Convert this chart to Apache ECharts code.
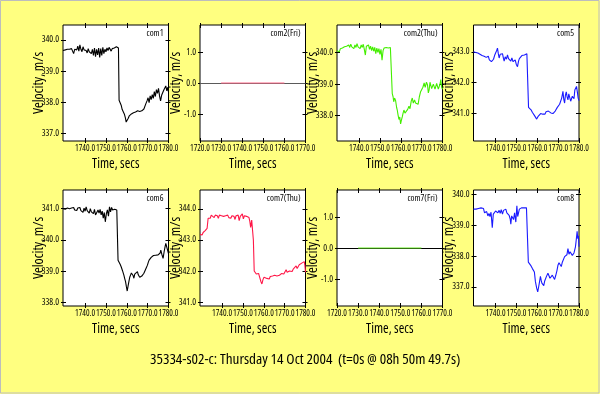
<!DOCTYPE html>
<html><head><meta charset="utf-8">
<script src="https://cdn.jsdelivr.net/npm/echarts@6/dist/echarts.min.js"></script>
<style>html,body{margin:0;padding:0;background:#ffff80}#c{width:600px;height:394px}</style>
</head><body><div id="c"></div>
<script>
// ---------- data ----------
const com1T = [1729.4,1730.0,1730.5,1731.0,1731.5,1732.0,1732.5,1733.0,1733.5,1734.0,1734.5,1735.0,1735.5,1736.0,1736.5,1737.0,1737.5,1738.0,1738.5,1739.0,1739.5,1740.0,1740.5,1741.0,1741.5,1742.0,1742.5,1743.0,1743.5,1744.0,1744.5,1745.0,1745.5,1746.0,1746.5,1747.0,1747.5,1748.0,1748.5,1749.0,1749.5,1750.0,1750.5,1751.0,1751.5,1752.0,1752.5,1753.0,1753.5,1754.0,1754.5,1755.0,1755.5,1756.0,1756.3,1756.8,1757.3,1757.8,1758.3,1758.8,1759.3,1759.7,1760.2,1760.7,1761.2,1761.7,1762.2,1762.7,1763.2,1763.7,1764.2,1764.7,1765.2,1765.7,1766.2,1766.7,1767.2,1767.7,1768.2,1768.7,1769.2,1769.7,1770.2,1770.7,1771.2,1771.7,1772.2,1772.7,1773.2,1773.7,1774.2,1774.7,1775.2,1775.7,1776.2,1776.7,1777.2,1777.7,1778.2,1778.7,1779.2,1779.7,1780.0];
const com1V = [339.66,339.70,339.68,339.72,339.70,339.74,339.70,339.66,339.72,339.68,339.56,339.70,339.74,339.68,339.80,339.64,339.84,339.70,339.62,339.78,339.68,339.74,339.66,339.58,339.72,339.62,339.68,339.56,339.70,339.50,339.74,339.46,339.70,339.52,339.74,339.44,339.72,339.50,339.76,339.56,339.70,339.62,339.74,339.66,339.76,339.70,339.64,339.72,339.66,339.74,339.70,339.78,339.72,339.74,338.06,337.98,337.90,337.76,337.80,337.62,337.50,337.36,337.42,337.48,337.56,337.52,337.62,337.58,337.66,337.60,337.68,337.64,337.72,337.66,337.70,337.64,337.72,337.70,337.78,337.80,337.96,338.04,338.14,337.98,338.20,338.08,338.24,338.12,338.34,338.18,338.40,338.28,338.44,338.20,338.04,338.22,338.30,338.38,338.44,338.52,338.36,338.48,338.32];

const com2FriT = [1730,1735,1740,1745,1750,1755,1760];
const com2FriV = [0,0,0,0,0,0,0];

const com2ThuT = [1729.4,1730.0,1730.5,1731.0,1731.5,1732.0,1732.5,1733.0,1733.5,1734.0,1734.5,1735.0,1735.5,1736.0,1736.5,1737.0,1737.5,1738.0,1738.5,1739.0,1739.5,1740.0,1740.5,1741.0,1741.5,1742.0,1742.5,1743.0,1743.5,1744.0,1744.5,1745.0,1745.5,1746.0,1746.5,1747.0,1747.5,1748.0,1748.5,1749.0,1749.5,1750.0,1750.5,1751.0,1751.5,1752.0,1752.5,1753.0,1753.5,1754.0,1754.5,1755.0,1755.5,1755.9,1756.3,1756.6,1757.0,1757.5,1758.0,1758.3,1758.7,1759.1,1759.5,1759.9,1760.3,1760.7,1761.1,1761.5,1762.0,1762.4,1762.8,1763.3,1763.9,1764.4,1765.0,1765.5,1766.0,1766.6,1767.1,1767.7,1768.3,1768.9,1769.5,1770.0,1770.6,1771.2,1771.7,1772.3,1772.8,1773.2,1773.6,1774.0,1774.4,1774.8,1775.2,1775.6,1776.0,1776.4,1776.8,1777.2,1777.6,1778.0,1778.4,1778.8,1779.2,1779.6,1780.0];
const com2ThuV = [340.06,340.10,340.02,340.12,340.06,340.14,340.08,340.18,340.12,340.20,340.14,340.24,340.16,340.26,340.18,340.22,340.12,340.24,340.16,340.28,340.18,340.22,340.12,340.24,340.16,340.26,340.10,339.92,340.20,340.14,340.24,340.10,340.20,340.06,340.18,340.04,340.16,339.96,340.14,340.00,340.12,339.94,340.10,339.76,340.06,340.14,340.08,340.16,340.10,340.14,340.12,340.16,340.14,338.70,338.60,338.44,338.56,338.48,338.26,338.18,338.02,337.88,337.96,337.74,337.86,337.96,338.08,338.18,338.08,338.14,338.02,338.20,338.30,338.22,338.46,338.56,338.40,338.50,338.40,338.44,338.36,338.60,338.76,338.70,338.90,339.04,338.90,339.06,338.98,338.72,338.82,339.06,339.08,338.86,338.82,339.00,339.04,338.84,338.82,339.02,339.08,338.84,338.80,339.00,339.14,338.90,338.84];

const com5T = [1729.4,1730.0,1730.5,1731.0,1731.5,1732.0,1732.5,1733.0,1733.5,1734.0,1734.5,1735.0,1735.5,1736.0,1736.5,1737.0,1737.5,1738.0,1738.5,1739.0,1739.5,1740.0,1740.5,1740.9,1741.3,1741.7,1742.2,1742.7,1743.3,1743.8,1744.1,1744.6,1745.2,1745.7,1746.2,1746.8,1747.3,1747.8,1748.4,1748.9,1749.4,1749.9,1750.5,1751.0,1751.4,1752.1,1752.6,1753.2,1753.8,1754.3,1755.0,1755.5,1755.8,1756.3,1757.0,1757.6,1758.1,1758.6,1759.2,1759.7,1760.3,1761.0,1761.6,1762.2,1762.6,1763.2,1763.7,1764.2,1764.8,1765.3,1765.9,1766.5,1767.0,1767.5,1768.1,1768.6,1769.1,1769.6,1770.2,1770.7,1771.2,1771.7,1772.3,1772.7,1773.1,1773.5,1773.9,1774.3,1774.7,1775.1,1775.6,1776.0,1776.3,1776.8,1777.2,1777.6,1778.0,1778.4,1778.8,1779.2,1779.6,1780.0];
const com5V = [343.00,343.02,342.98,343.00,342.96,342.98,342.92,342.96,342.88,342.92,342.86,342.90,342.82,342.78,342.86,342.74,342.80,342.68,342.62,342.76,342.88,342.96,343.04,343.12,342.94,342.80,342.92,342.86,342.94,342.78,342.70,342.84,342.76,342.90,342.78,342.82,342.70,342.80,342.68,342.62,342.74,342.60,342.52,342.70,342.78,342.80,342.88,342.84,342.90,342.88,342.94,342.90,341.20,341.14,341.12,341.04,341.00,340.94,340.88,340.82,340.90,340.92,341.00,340.94,340.98,341.04,340.98,341.06,341.00,341.08,341.04,341.02,341.06,341.00,341.04,341.08,341.12,341.20,341.26,341.30,341.34,341.50,341.72,341.46,341.34,341.60,341.70,341.54,341.44,341.64,341.60,341.40,341.38,341.56,341.62,341.48,341.76,341.82,341.88,341.70,341.50,341.42];

const com6T = [1729.4,1730.0,1730.5,1731.0,1731.5,1732.0,1732.5,1733.0,1733.5,1734.0,1734.5,1735.0,1735.5,1736.0,1736.5,1737.0,1737.5,1738.0,1738.5,1739.0,1739.5,1740.0,1740.5,1741.0,1741.5,1742.0,1742.5,1743.0,1743.5,1744.0,1744.5,1745.0,1745.7,1746.2,1746.7,1747.2,1747.7,1748.2,1748.7,1749.2,1749.7,1750.2,1750.7,1751.2,1751.7,1752.2,1752.7,1753.2,1753.7,1754.2,1754.7,1755.2,1755.6,1755.8,1756.3,1756.8,1757.3,1757.9,1758.6,1759.0,1759.4,1759.8,1760.2,1760.6,1761.0,1761.4,1761.8,1762.2,1762.6,1763.0,1763.4,1763.8,1764.2,1764.6,1765.1,1765.5,1765.8,1766.2,1766.7,1767.2,1767.7,1768.2,1768.7,1769.3,1769.9,1770.3,1770.7,1771.2,1771.7,1772.3,1772.8,1773.4,1773.9,1774.4,1775.0,1775.5,1776.0,1776.3,1776.8,1777.4,1777.9,1778.3,1778.7,1779.1,1779.5,1780.0];
const com6V = [341.00,341.02,340.98,341.00,341.02,340.98,341.00,340.96,341.02,340.98,341.04,340.96,341.00,340.94,341.02,340.96,341.04,340.94,341.00,340.88,341.02,340.92,341.06,340.94,340.98,340.86,341.00,340.90,340.96,340.84,340.98,340.80,340.74,340.96,340.86,340.98,340.80,340.92,340.70,340.88,340.58,340.84,340.96,340.76,341.06,340.90,341.04,340.96,341.02,340.98,341.00,340.96,340.98,339.35,339.30,339.22,339.14,339.02,338.87,338.76,338.66,338.50,338.36,338.52,338.66,338.80,338.87,338.94,338.98,338.86,338.77,338.90,338.93,338.84,338.98,338.88,338.84,338.80,338.77,338.84,338.90,338.93,338.98,339.10,339.19,339.28,339.35,339.40,339.44,339.46,339.50,339.46,339.51,339.48,339.52,339.46,339.58,339.67,339.54,339.41,339.62,339.76,339.89,339.84,339.94,339.56];

const com7ThuT = [1729.4,1729.9,1730.4,1730.9,1731.4,1731.9,1732.4,1732.8,1733.3,1733.8,1734.3,1734.8,1735.2,1735.7,1736.2,1736.7,1737.2,1737.7,1738.2,1738.7,1739.2,1739.7,1740.2,1740.7,1741.2,1741.7,1742.2,1742.7,1743.2,1743.7,1744.2,1744.7,1745.2,1745.7,1746.2,1746.7,1747.2,1747.7,1748.2,1748.7,1749.2,1749.7,1750.2,1750.7,1751.2,1751.7,1752.2,1752.9,1753.3,1753.7,1754.2,1754.6,1755.0,1755.4,1755.9,1756.4,1757.0,1757.5,1758.0,1758.6,1759.1,1759.6,1760.1,1760.5,1761.0,1761.5,1762.0,1762.6,1763.1,1763.6,1764.2,1764.7,1765.2,1765.8,1766.3,1766.9,1767.5,1768.0,1768.6,1769.1,1769.6,1770.2,1770.7,1771.2,1771.8,1772.3,1773.1,1773.6,1774.1,1774.6,1775.0,1775.5,1776.0,1776.5,1777.0,1777.4,1777.9,1778.4,1778.9,1779.4,1779.7,1780.0];
const com7ThuV = [343.18,343.22,343.16,343.24,343.20,343.30,343.26,343.37,343.70,343.76,343.70,343.80,343.74,343.82,343.72,343.80,343.74,343.78,343.70,343.80,343.74,343.78,343.72,343.76,343.70,343.78,343.74,343.80,343.72,343.76,343.70,343.78,343.72,343.76,343.66,343.78,343.72,343.80,343.62,343.76,343.70,343.84,343.68,343.78,343.72,343.76,343.74,343.72,343.60,343.40,343.64,343.62,343.00,342.00,342.06,341.90,341.86,341.92,341.80,341.66,341.58,341.72,341.80,341.74,341.82,341.76,341.80,341.74,341.82,341.78,341.84,341.80,341.86,341.80,341.84,341.82,341.86,341.84,341.92,341.86,341.90,341.96,342.04,341.96,341.92,342.00,342.02,341.98,342.06,342.04,342.10,342.16,342.08,342.12,342.20,342.22,342.16,342.26,342.28,342.30,342.18,341.96];

const com7FriT = [1730,1735,1740,1745,1750,1755,1760];
const com7FriV = [0,0,0,0,0,0,0];

const com8T = [1729.4,1730.0,1730.6,1731.2,1731.8,1732.4,1733.0,1733.6,1734.2,1734.7,1735.2,1735.7,1736.3,1736.8,1737.3,1737.8,1738.4,1738.9,1739.4,1740.0,1740.5,1741.1,1741.7,1742.2,1742.7,1743.3,1743.8,1744.3,1744.9,1745.4,1746.0,1746.5,1747.0,1747.3,1747.7,1748.1,1748.6,1749.1,1749.7,1750.2,1750.6,1751.0,1751.4,1751.9,1752.4,1753.0,1753.6,1754.2,1754.8,1755.4,1755.7,1756.3,1757.0,1757.6,1758.2,1758.6,1759.1,1759.7,1760.2,1760.6,1761.0,1761.5,1761.9,1762.2,1762.6,1763.1,1763.5,1763.8,1764.4,1765.1,1765.6,1766.1,1766.7,1767.2,1767.8,1768.3,1768.8,1769.4,1769.9,1770.4,1770.9,1771.5,1772.0,1772.5,1773.1,1773.6,1774.2,1774.7,1775.2,1775.7,1776.3,1776.8,1777.2,1777.6,1778.0,1778.3,1778.5,1778.8,1779.1,1779.4,1779.7,1780.0];
const com8V = [339.52,339.56,339.52,339.58,339.54,339.60,339.56,339.60,339.54,339.40,339.34,339.44,339.30,339.38,339.28,339.42,338.92,339.36,339.30,339.46,339.52,339.40,339.48,339.38,339.50,339.36,339.48,339.42,339.52,339.40,339.44,339.32,339.20,339.03,339.30,339.32,339.18,339.40,339.10,339.63,339.28,339.40,339.52,339.48,339.56,339.52,339.56,339.50,339.56,339.52,337.80,337.74,337.68,337.60,337.54,337.48,337.17,336.96,336.84,336.98,337.14,337.34,337.20,337.12,337.06,337.04,337.18,337.22,337.34,337.44,337.36,337.28,337.28,337.38,337.32,337.24,337.36,337.52,337.70,337.78,337.74,337.66,337.80,337.86,337.98,337.94,338.04,338.24,338.06,338.14,338.10,338.02,337.96,338.10,338.14,338.30,338.42,338.60,338.80,338.56,338.66,338.30];

// tick values
const xTicksRun = [1740,1750,1760,1770,1780];
const xTicksFri = [1720,1730,1740,1750,1760,1770];
const yTicksCom1 = [337,338,339,340];
const yTicksZero = [-1,0,1];
const yTicksCom2Thu = [338,339,340];
const yTicksCom5 = [341,342,343];
const yTicksCom6 = [338,339,340,341];
const yTicksCom7Thu = [341,342,343,344];
const yTicksCom8 = [337,338,339,340];
const panelNames = ['com1','com2(Fri)','com2(Thu)','com5','com6','com7(Thu)','com7(Fri)','com8'];
const mainTitle = '35334-s02-c: Thursday 14 Oct 2004  (t=0s @ 08h 50m 49.7s)';

// ---------- layout ----------
const FONT = '"Open Sans", "Liberation Sans", Arial, sans-serif';
const STRETCH = 'condensed';
const colLeft = [63, 200, 337, 473.5];
const rowTop = [25, 190];
const PW = 105.5, PH = 116;

const panels = [
  {t:com1T, v:com1V, color:'#000000', x:[1729.4,1780], xt:xTicksRun, y:[336.75,340.48], yt:yTicksCom1},
  {t:com2FriT, v:com2FriV, color:'#ff6a8a', x:[1720,1770], xt:xTicksFri, y:[-1.87,1.87], yt:yTicksZero, zero:'#5a5a5a'},
  {t:com2ThuT, v:com2ThuV, color:'#44ee00', x:[1729.4,1780], xt:xTicksRun, y:[337.20,340.87], yt:yTicksCom2Thu},
  {t:com5T, v:com5V, color:'#1a1aff', x:[1729.4,1780], xt:xTicksRun, y:[340.11,343.87], yt:yTicksCom5},
  {t:com6T, v:com6V, color:'#000000', x:[1729.4,1780], xt:xTicksRun, y:[337.88,341.60], yt:yTicksCom6},
  {t:com7ThuT, v:com7ThuV, color:'#ff1848', x:[1729.4,1780], xt:xTicksRun, y:[340.87,344.61], yt:yTicksCom7Thu},
  {t:com7FriT, v:com7FriV, color:'#66ee22', x:[1720,1770], xt:xTicksFri, y:[-1.87,1.87], yt:yTicksZero, zero:'#000000'},
  {t:com8T, v:com8V, color:'#1a1aff', x:[1729.4,1780], xt:xTicksRun, y:[336.38,340.14], yt:yTicksCom8}
];

const grids = [], xAxes = [], yAxes = [], series = [], titles = [];
const fmt = v => v.toFixed(1);
const txt = (size) => ({fontSize: size, fontFamily: FONT, fontStyle: STRETCH, fontWeight: 'normal', color: '#000'});

panels.forEach((p, i) => {
  const left = colLeft[i % 4], top = rowTop[Math.floor(i / 4)];
  grids.push({left, top, width: PW, height: PH, show: true, backgroundColor: '#ffffff',
              borderColor: '#000000', borderWidth: 1, containLabel: false});
  const tickStyle = {color: '#000000', width: 1};
  const baseX = (pos, inside, len, main) => ({
    type: 'value', gridIndex: i, position: pos, min: p.x[0], max: p.x[1],
    axisLine: {show: false, onZero: false}, splitLine: {show: false},
    axisTick: {show: true, inside, length: len, lineStyle: tickStyle, customValues: p.xt},
    axisLabel: main ? Object.assign({show: true, customValues: p.xt, formatter: fmt, margin: 3,
                       hideOverlap: false, showMinLabel: true, showMaxLabel: true}, txt(8.5))
                    : {show: false},
    name: main ? 'Time, secs' : '', nameLocation: 'middle', nameGap: 16, nameMoveOverlap: false,
    nameTextStyle: txt(13.5)
  });
  const baseY = (pos, inside, len, main) => ({
    type: 'value', gridIndex: i, position: pos, min: p.y[0], max: p.y[1],
    axisLine: {show: false, onZero: false}, splitLine: {show: false},
    axisTick: {show: true, inside, length: len, lineStyle: tickStyle, customValues: p.yt},
    axisLabel: main ? Object.assign({show: true, customValues: p.yt, formatter: fmt, margin: 4,
                       hideOverlap: false, showMinLabel: true, showMaxLabel: true}, txt(9))
                    : {show: false},
    name: main ? 'Velocity, m/s' : '', nameLocation: 'middle', nameGap: 17, nameMoveOverlap: false,
    nameTextStyle: txt(14)
  });
  const xi = xAxes.length, yi = yAxes.length;
  xAxes.push(baseX('bottom', false, 2, true), baseX('bottom', true, 3, false),
             baseX('top', false, 2, false), baseX('top', true, 3, false));
  yAxes.push(baseY('left', false, 2, true), baseY('left', true, 3, false),
             baseY('right', false, 2, false), baseY('right', true, 3, false));
  const s = {
    type: 'line', xAxisIndex: xi, yAxisIndex: yi, z: 10,
    data: p.t.map((t, k) => [t, p.v[k]]),
    showSymbol: false, symbol: 'none', animation: false, clip: true,
    lineStyle: {width: 1.1, color: p.color}
  };
  if (p.zero) {
    s.markLine = {silent: true, symbol: 'none', animation: false, label: {show: false}, z: 3,
                  lineStyle: {color: p.zero, width: 1, type: 'solid'}, data: [{yAxis: 0}]};
  }
  series.push(s);
  titles.push({text: panelNames[i], right: 600 - (left + PW) + 5, top: top + 4, padding: 0,
               textStyle: txt(9)});
});

titles.push({text: mainTitle, left: 150, top: 352, padding: 0, textStyle: txt(15.2)});

const chart = echarts.init(document.getElementById('c'), null, {renderer: 'canvas'});
chart.setOption({
  backgroundColor: '#ffff80',
  animation: false,
  title: titles,
  grid: grids,
  xAxis: xAxes,
  yAxis: yAxes,
  series: series,
  graphic: [{type: 'rect', shape: {x: 0.5, y: 0.5, width: 598.5, height: 392.5},
             style: {fill: 'none', stroke: '#bdbdbd', lineWidth: 1}, silent: true}]
});
</script></body></html>
